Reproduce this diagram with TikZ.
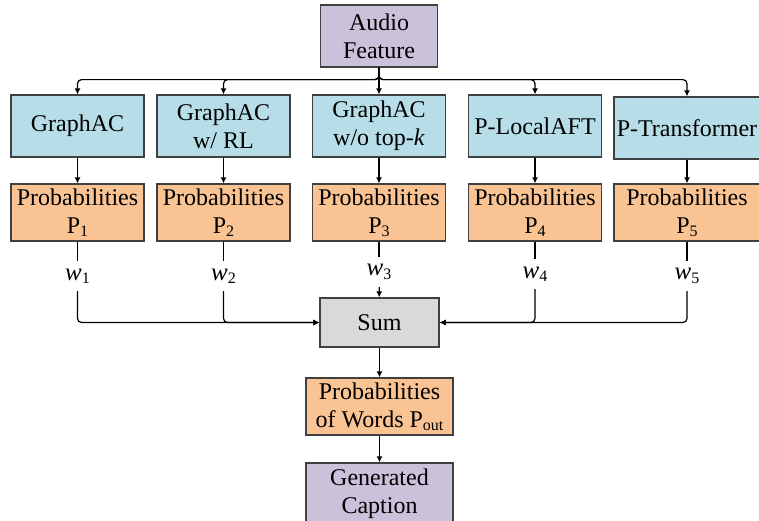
\documentclass[tikz,border=0pt]{standalone}
\usepackage{fontspec}
\setmainfont{Liberation Serif}
\usetikzlibrary{arrows.meta}
\definecolor{lilac}{HTML}{CCC1DA}
\definecolor{paleblue}{HTML}{B7DEE8}
\definecolor{peach}{HTML}{FAC394}
\definecolor{lightgrey}{HTML}{D9D9D9}
\newcommand{\lsub}[1]{\raisebox{-0.3ex}{\footnotesize #1}}

\begin{document}
\begin{tikzpicture}[x=0.5pt,y=-0.5pt,line width=0.6pt,>={Latex[length=3pt,width=3pt]},
  box/.style={draw=black!75,line width=0.6pt,align=center,inner sep=1pt,font=\fontsize{12}{14}\selectfont},
  modelbox/.style={box,fill=paleblue,minimum width=66.5pt,minimum height=31pt},
  probbox/.style={box,fill=peach,minimum width=66.5pt,minimum height=28.5pt},
  wlabel/.style={inner sep=1pt,minimum height=14.5pt,font=\fontsize{12.5}{14}\selectfont},
  link/.style={->,rounded corners=2pt}]
  \useasboundingbox (0,0) rectangle (759,520);
  % ============ input ============
  \node[box,fill=lilac,minimum width=58.5pt,minimum height=31pt] (audio) at (379,36) {Audio\\Feature};
  % ============ models ============
  \node[modelbox] (m1) at (77.5,126) {GraphAC};
  \node[modelbox] (m2) at (223.5,126) {GraphAC\\w/ RL};
  \node[modelbox] (m3) at (379,126) {GraphAC\\w/o top-\textit{k}};
  \node[modelbox] (m4) at (535,126) {P-LocalAFT};
  \node[modelbox,minimum width=73pt] (m5) at (687,128) {P-Transformer};
  % ============ per-model probabilities ============
  \node[probbox] (p1) at (77.5,212.5) {Probabilities\\P\lsub{1}};
  \node[probbox] (p2) at (223.5,212.5) {Probabilities\\P\lsub{2}};
  \node[probbox] (p3) at (379,212.5) {Probabilities\\P\lsub{3}};
  \node[probbox] (p4) at (535,212.5) {Probabilities\\P\lsub{4}};
  \node[probbox,minimum width=73pt] (p5) at (687,212.5) {Probabilities\\P\lsub{5}};
  % weights
  \node[wlabel] (w1) at (77.5,276) {\textit{w}\lsub{1}};
  \node[wlabel] (w2) at (223.5,276) {\textit{w}\lsub{2}};
  \node[wlabel] (w3) at (379,272) {\textit{w}\lsub{3}};
  \node[wlabel] (w4) at (535,274) {\textit{w}\lsub{4}};
  \node[wlabel] (w5) at (687,276) {\textit{w}\lsub{5}};
  % ============ fusion and output ============
  \node[box,fill=lightgrey,minimum width=59.5pt,minimum height=24.5pt] (sum) at (379.5,322.5) {Sum};
  \node[probbox,minimum width=73.5pt] (pout) at (379.5,406.5) {Probabilities\\of Words P\lsub{out}};
  \node[box,fill=lilac,minimum width=73.5pt,minimum height=31pt] (cap) at (379.5,494) {Generated\\Caption};
  % ---------- audio feature to every model ----------
  \foreach \m in {m1,m2,m4,m5}
    \draw[link] (audio.south) -- ++(0,12) -| (\m.north);
  \draw[->] (audio) -- (m3);
  % ---------- models to probabilities to weights ----------
  \foreach \i in {1,...,5} {
    \draw[->] (m\i) -- (p\i);
    \draw (p\i) -- (w\i);
  }
  % ---------- weighted sum ----------
  \foreach \i in {1,2,4,5}
    \draw[link] (w\i.south) |- (sum);
  \draw[->] (w3) -- (sum);
  \draw[->] (sum) -- (pout);
  \draw[->] (pout) -- (cap);
\end{tikzpicture}
\end{document}
